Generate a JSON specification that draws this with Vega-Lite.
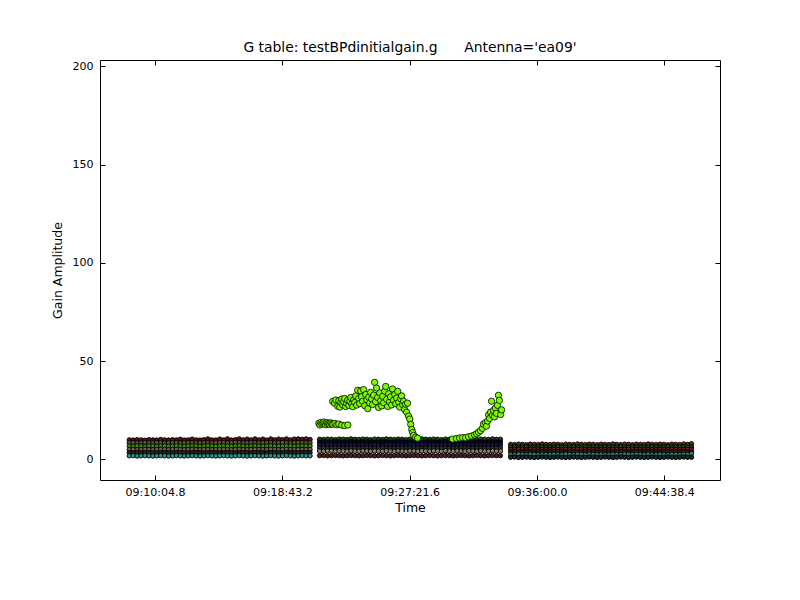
{
  "$schema": "https://vega.github.io/schema/vega-lite/v6.json",
  "width": 620,
  "height": 420,
  "autosize": "none",
  "padding": {"left": 100, "top": 60, "right": 80, "bottom": 120},
  "background": "white",
  "config": {
    "view": {"stroke": "black", "strokeWidth": 1, "fill": "white"},
    "font": "DejaVu Sans"
  },
  "title": {
    "text": "G table: testBPdinitialgain.g\u00a0\u00a0\u00a0\u00a0\u00a0\u00a0Antenna='ea09'",
    "font": "DejaVu Sans",
    "fontSize": 13.9,
    "fontWeight": "normal",
    "color": "black",
    "anchor": "middle",
    "offset": 5
  },
  "data": {"values": [
    {"t":32900,"a":9.9,"b":8.4,"c":6.8,"d":5.0,"e":3.4,"f":1.8},
    {"t":32916,"a":9.8,"b":8.5,"c":6.7,"d":5.1,"e":3.3,"f":1.9},
    {"t":32932,"a":10.0,"b":8.3,"c":6.9,"d":4.9,"e":3.5,"f":1.7},
    {"t":32948,"a":9.9,"b":8.4,"c":6.8,"d":5.0,"e":3.4,"f":1.8},
    {"t":32964,"a":9.7,"b":8.6,"c":6.6,"d":5.1,"e":3.3,"f":1.9},
    {"t":32980,"a":10.0,"b":8.4,"c":6.9,"d":5.0,"e":3.5,"f":1.8},
    {"t":32996,"a":9.9,"b":8.3,"c":6.8,"d":4.9,"e":3.4,"f":1.7},
    {"t":33012,"a":9.8,"b":8.5,"c":6.7,"d":5.0,"e":3.3,"f":1.8},
    {"t":33028,"a":10.1,"b":8.4,"c":6.8,"d":5.1,"e":3.4,"f":1.9},
    {"t":33044,"a":9.9,"b":8.3,"c":6.9,"d":5.0,"e":3.5,"f":1.8},
    {"t":33060,"a":9.8,"b":8.4,"c":6.7,"d":4.9,"e":3.4,"f":1.7},
    {"t":33076,"a":10.0,"b":8.5,"c":6.8,"d":5.0,"e":3.3,"f":1.8},
    {"t":33092,"a":9.9,"b":8.4,"c":6.9,"d":5.1,"e":3.4,"f":1.9},
    {"t":33108,"a":10.2,"b":8.3,"c":6.8,"d":5.0,"e":3.5,"f":1.8},
    {"t":33124,"a":9.8,"b":8.4,"c":6.7,"d":4.9,"e":3.4,"f":1.7},
    {"t":33140,"a":9.9,"b":8.5,"c":6.8,"d":5.0,"e":3.3,"f":1.8},
    {"t":33156,"a":10.3,"b":8.4,"c":6.9,"d":5.1,"e":3.4,"f":1.9},
    {"t":33172,"a":9.9,"b":8.3,"c":6.8,"d":5.0,"e":3.5,"f":1.8},
    {"t":33188,"a":9.8,"b":8.4,"c":6.7,"d":4.9,"e":3.4,"f":1.7},
    {"t":33204,"a":10.0,"b":8.5,"c":6.8,"d":5.0,"e":3.3,"f":1.8},
    {"t":33220,"a":10.4,"b":8.4,"c":6.9,"d":5.1,"e":3.4,"f":1.9},
    {"t":33236,"a":9.9,"b":8.3,"c":6.8,"d":5.0,"e":3.5,"f":1.8},
    {"t":33252,"a":9.8,"b":8.4,"c":6.7,"d":4.9,"e":3.4,"f":1.7},
    {"t":33268,"a":10.3,"b":8.5,"c":6.8,"d":5.0,"e":3.3,"f":1.8},
    {"t":33284,"a":9.9,"b":8.4,"c":6.9,"d":5.1,"e":3.4,"f":1.9},
    {"t":33300,"a":10.4,"b":8.3,"c":6.8,"d":5.0,"e":3.5,"f":1.8},
    {"t":33316,"a":9.8,"b":8.4,"c":6.7,"d":4.9,"e":3.4,"f":1.7},
    {"t":33332,"a":10.0,"b":8.5,"c":6.8,"d":5.0,"e":3.3,"f":1.8},
    {"t":33348,"a":10.4,"b":8.4,"c":6.9,"d":5.1,"e":3.4,"f":1.9},
    {"t":33364,"a":9.9,"b":8.3,"c":6.8,"d":5.0,"e":3.5,"f":1.8},
    {"t":33380,"a":10.3,"b":8.4,"c":6.7,"d":4.9,"e":3.4,"f":1.7},
    {"t":33396,"a":9.9,"b":8.5,"c":6.8,"d":5.0,"e":3.3,"f":1.8},
    {"t":33412,"a":10.4,"b":8.4,"c":6.9,"d":5.1,"e":3.4,"f":1.9},
    {"t":33428,"a":9.9,"b":8.3,"c":6.8,"d":5.0,"e":3.5,"f":1.8},
    {"t":33444,"a":10.3,"b":8.4,"c":6.7,"d":4.9,"e":3.4,"f":1.7},
    {"t":33460,"a":9.8,"b":8.5,"c":6.8,"d":5.0,"e":3.3,"f":1.8},
    {"t":33476,"a":10.4,"b":8.4,"c":6.9,"d":5.1,"e":3.4,"f":1.9},
    {"t":33492,"a":9.9,"b":8.3,"c":6.8,"d":5.0,"e":3.5,"f":1.8},
    {"t":33508,"a":10.3,"b":8.4,"c":6.7,"d":4.9,"e":3.4,"f":1.7},
    {"t":33524,"a":10.0,"b":8.5,"c":6.8,"d":5.0,"e":3.3,"f":1.8},
    {"t":33540,"a":10.4,"b":8.4,"c":6.9,"d":5.1,"e":3.4,"f":1.9},
    {"t":33556,"a":9.9,"b":8.3,"c":6.8,"d":5.0,"e":3.5,"f":1.8},
    {"t":33572,"a":10.3,"b":8.4,"c":6.7,"d":4.9,"e":3.4,"f":1.7},
    {"t":33588,"a":10.4,"b":8.5,"c":6.8,"d":5.0,"e":3.3,"f":1.8},
    {"t":33604,"a":10.2,"b":8.4,"c":6.9,"d":5.1,"e":3.4,"f":1.9},
    {"t":33620,"a":10.4,"b":8.3,"c":6.8,"d":5.0,"e":3.5,"f":1.8},
    {"t":33636,"a":10.1,"b":8.4,"c":6.8,"d":5.0,"e":3.4,"f":1.8},
    {"t":33675,"g":10.2,"h":8.8,"i":7.4,"j":5.8,"k":4.2,"l":1.9},
    {"t":33691,"g":10.1,"h":8.9,"i":7.3,"j":5.9,"k":4.1,"l":2.0},
    {"t":33707,"g":10.3,"h":8.7,"i":7.5,"j":5.7,"k":4.3,"l":1.8},
    {"t":33723,"g":10.2,"h":8.8,"i":7.4,"j":5.8,"k":4.2,"l":1.9},
    {"t":33739,"g":10.0,"h":8.9,"i":7.3,"j":5.9,"k":4.1,"l":2.0},
    {"t":33755,"g":10.3,"h":8.8,"i":7.5,"j":5.8,"k":4.3,"l":1.9},
    {"t":33771,"g":10.2,"h":8.7,"i":7.4,"j":5.7,"k":4.2,"l":1.8},
    {"t":33787,"g":10.1,"h":8.8,"i":7.3,"j":5.8,"k":4.1,"l":1.9},
    {"t":33803,"g":10.4,"h":8.9,"i":7.5,"j":5.9,"k":4.3,"l":2.0},
    {"t":33819,"g":10.2,"h":8.8,"i":7.4,"j":5.8,"k":4.2,"l":1.9},
    {"t":33835,"g":10.1,"h":8.7,"i":7.3,"j":5.7,"k":4.1,"l":1.8},
    {"t":33851,"g":10.3,"h":8.8,"i":7.5,"j":5.8,"k":4.3,"l":1.9},
    {"t":33867,"g":10.2,"h":8.9,"i":7.4,"j":5.9,"k":4.2,"l":2.0},
    {"t":33883,"g":10.0,"h":8.8,"i":7.3,"j":5.8,"k":4.1,"l":1.9},
    {"t":33899,"g":10.3,"h":8.7,"i":7.5,"j":5.7,"k":4.3,"l":1.8},
    {"t":33915,"g":10.2,"h":8.8,"i":7.4,"j":5.8,"k":4.2,"l":1.9},
    {"t":33931,"g":10.1,"h":8.9,"i":7.3,"j":5.9,"k":4.1,"l":2.0},
    {"t":33947,"g":10.4,"h":8.8,"i":7.5,"j":5.8,"k":4.3,"l":1.9},
    {"t":33963,"g":10.2,"h":8.7,"i":7.4,"j":5.7,"k":4.2,"l":1.8},
    {"t":33979,"g":10.1,"h":8.8,"i":7.3,"j":5.8,"k":4.1,"l":1.9},
    {"t":33995,"g":10.3,"h":8.9,"i":7.5,"j":5.9,"k":4.3,"l":2.0},
    {"t":34011,"g":10.2,"h":8.8,"i":7.4,"j":5.8,"k":4.2,"l":1.9},
    {"t":34027,"g":10.0,"h":8.7,"i":7.3,"j":5.7,"k":4.1,"l":1.8},
    {"t":34043,"g":10.3,"h":8.8,"i":7.5,"j":5.8,"k":4.3,"l":1.9},
    {"t":34059,"g":10.2,"h":8.9,"i":7.4,"j":5.9,"k":4.2,"l":2.0},
    {"t":34075,"g":10.1,"h":8.8,"i":7.3,"j":5.8,"k":4.1,"l":1.9},
    {"t":34091,"g":10.4,"h":8.7,"i":7.5,"j":5.7,"k":4.3,"l":1.8},
    {"t":34107,"g":10.2,"h":8.8,"i":7.4,"j":5.8,"k":4.2,"l":1.9},
    {"t":34123,"g":10.1,"h":8.9,"i":7.3,"j":5.9,"k":4.1,"l":2.0},
    {"t":34139,"g":10.3,"h":8.8,"i":7.5,"j":5.8,"k":4.3,"l":1.9},
    {"t":34155,"g":10.2,"h":8.7,"i":7.4,"j":5.7,"k":4.2,"l":1.8},
    {"t":34171,"g":10.0,"h":8.8,"i":7.3,"j":5.8,"k":4.1,"l":1.9},
    {"t":34187,"g":10.3,"h":8.9,"i":7.5,"j":5.9,"k":4.3,"l":2.0},
    {"t":34203,"g":10.2,"h":8.8,"i":7.4,"j":5.8,"k":4.2,"l":1.9},
    {"t":34219,"g":10.1,"h":8.7,"i":7.3,"j":5.7,"k":4.1,"l":1.8},
    {"t":34235,"g":10.4,"h":8.8,"i":7.5,"j":5.8,"k":4.3,"l":1.9},
    {"t":34251,"g":10.2,"h":8.9,"i":7.4,"j":5.9,"k":4.2,"l":2.0},
    {"t":34267,"g":10.1,"h":8.8,"i":7.3,"j":5.8,"k":4.1,"l":1.9},
    {"t":34283,"g":10.3,"h":8.7,"i":7.5,"j":5.7,"k":4.3,"l":1.8},
    {"t":34299,"g":10.2,"h":8.8,"i":7.4,"j":5.8,"k":4.2,"l":1.9},
    {"t":34315,"g":10.0,"h":8.9,"i":7.3,"j":5.9,"k":4.1,"l":2.0},
    {"t":34331,"g":10.3,"h":8.8,"i":7.5,"j":5.8,"k":4.3,"l":1.9},
    {"t":34347,"g":10.2,"h":8.7,"i":7.4,"j":5.7,"k":4.2,"l":1.8},
    {"t":34363,"g":10.1,"h":8.8,"i":7.3,"j":5.8,"k":4.1,"l":1.9},
    {"t":34379,"g":10.4,"h":8.9,"i":7.5,"j":5.9,"k":4.3,"l":2.0},
    {"t":34395,"g":10.2,"h":8.8,"i":7.4,"j":5.8,"k":4.2,"l":1.9},
    {"t":34411,"g":10.2,"h":8.8,"i":7.4,"j":5.8,"k":4.2,"l":1.9},
    {"t":34453,"m":7.6,"n":6.3,"o":5.0,"p":3.8,"q":2.5,"r":1.1},
    {"t":34469,"m":7.5,"n":6.4,"o":4.9,"p":3.9,"q":2.4,"r":1.2},
    {"t":34485,"m":7.7,"n":6.2,"o":5.1,"p":3.7,"q":2.6,"r":1.0},
    {"t":34501,"m":7.6,"n":6.3,"o":5.0,"p":3.8,"q":2.5,"r":1.1},
    {"t":34517,"m":7.4,"n":6.4,"o":4.9,"p":3.9,"q":2.4,"r":1.2},
    {"t":34533,"m":7.7,"n":6.3,"o":5.1,"p":3.8,"q":2.6,"r":1.1},
    {"t":34549,"m":7.6,"n":6.2,"o":5.0,"p":3.7,"q":2.5,"r":1.0},
    {"t":34565,"m":7.5,"n":6.3,"o":4.9,"p":3.8,"q":2.4,"r":1.1},
    {"t":34581,"m":7.8,"n":6.4,"o":5.1,"p":3.9,"q":2.6,"r":1.2},
    {"t":34597,"m":7.6,"n":6.3,"o":5.0,"p":3.8,"q":2.5,"r":1.1},
    {"t":34613,"m":7.5,"n":6.2,"o":4.9,"p":3.7,"q":2.4,"r":1.0},
    {"t":34629,"m":7.7,"n":6.3,"o":5.1,"p":3.8,"q":2.6,"r":1.1},
    {"t":34645,"m":7.6,"n":6.4,"o":5.0,"p":3.9,"q":2.5,"r":1.2},
    {"t":34661,"m":7.4,"n":6.3,"o":4.9,"p":3.8,"q":2.4,"r":1.1},
    {"t":34677,"m":7.7,"n":6.2,"o":5.1,"p":3.7,"q":2.6,"r":1.0},
    {"t":34693,"m":7.6,"n":6.3,"o":5.0,"p":3.8,"q":2.5,"r":1.1},
    {"t":34709,"m":7.5,"n":6.4,"o":4.9,"p":3.9,"q":2.4,"r":1.2},
    {"t":34725,"m":7.8,"n":6.3,"o":5.1,"p":3.8,"q":2.6,"r":1.1},
    {"t":34741,"m":7.6,"n":6.2,"o":5.0,"p":3.7,"q":2.5,"r":1.0},
    {"t":34757,"m":7.5,"n":6.3,"o":4.9,"p":3.8,"q":2.4,"r":1.1},
    {"t":34773,"m":7.7,"n":6.4,"o":5.1,"p":3.9,"q":2.6,"r":1.2},
    {"t":34789,"m":7.6,"n":6.3,"o":5.0,"p":3.8,"q":2.5,"r":1.1},
    {"t":34805,"m":7.4,"n":6.2,"o":4.9,"p":3.7,"q":2.4,"r":1.0},
    {"t":34821,"m":7.7,"n":6.3,"o":5.1,"p":3.8,"q":2.6,"r":1.1},
    {"t":34837,"m":7.6,"n":6.4,"o":5.0,"p":3.9,"q":2.5,"r":1.2},
    {"t":34853,"m":7.5,"n":6.3,"o":4.9,"p":3.8,"q":2.4,"r":1.1},
    {"t":34869,"m":7.8,"n":6.2,"o":5.1,"p":3.7,"q":2.6,"r":1.0},
    {"t":34885,"m":7.6,"n":6.3,"o":5.0,"p":3.8,"q":2.5,"r":1.1},
    {"t":34901,"m":7.5,"n":6.4,"o":4.9,"p":3.9,"q":2.4,"r":1.2},
    {"t":34917,"m":7.7,"n":6.3,"o":5.1,"p":3.8,"q":2.6,"r":1.1},
    {"t":34933,"m":7.6,"n":6.2,"o":5.0,"p":3.7,"q":2.5,"r":1.0},
    {"t":34949,"m":7.4,"n":6.3,"o":4.9,"p":3.8,"q":2.4,"r":1.1},
    {"t":34965,"m":7.7,"n":6.4,"o":5.1,"p":3.9,"q":2.6,"r":1.2},
    {"t":34981,"m":7.6,"n":6.3,"o":5.0,"p":3.8,"q":2.5,"r":1.1},
    {"t":34997,"m":7.5,"n":6.2,"o":4.9,"p":3.7,"q":2.4,"r":1.0},
    {"t":35013,"m":7.8,"n":6.3,"o":5.1,"p":3.8,"q":2.6,"r":1.1},
    {"t":35029,"m":7.6,"n":6.4,"o":5.0,"p":3.9,"q":2.5,"r":1.2},
    {"t":35045,"m":7.5,"n":6.3,"o":4.9,"p":3.8,"q":2.4,"r":1.1},
    {"t":35061,"m":7.7,"n":6.2,"o":5.1,"p":3.7,"q":2.6,"r":1.0},
    {"t":35077,"m":7.6,"n":6.3,"o":5.0,"p":3.8,"q":2.5,"r":1.1},
    {"t":35093,"m":7.4,"n":6.4,"o":4.9,"p":3.9,"q":2.4,"r":1.2},
    {"t":35109,"m":7.7,"n":6.3,"o":5.1,"p":3.8,"q":2.6,"r":1.1},
    {"t":35125,"m":7.6,"n":6.2,"o":5.0,"p":3.7,"q":2.5,"r":1.0},
    {"t":35141,"m":7.5,"n":6.3,"o":4.9,"p":3.8,"q":2.4,"r":1.1},
    {"t":35157,"m":7.8,"n":6.4,"o":5.1,"p":3.9,"q":2.6,"r":1.2},
    {"t":35173,"m":7.6,"n":6.3,"o":5.0,"p":3.8,"q":2.5,"r":1.1},
    {"t":35189,"m":7.9,"n":6.3,"o":5.0,"p":3.8,"q":2.9,"r":1.1},
    {"t":33672,"G":18.3},{"t":33676,"G":17.5},{"t":33680,"G":18.8},{"t":33684,"G":17.9},
    {"t":33688,"G":18.5},{"t":33692,"G":19.0},{"t":33696,"G":18.2},{"t":33700,"G":17.6},
    {"t":33704,"G":18.7},{"t":33708,"G":18.0},{"t":33712,"G":18.4},{"t":33716,"G":17.7},
    {"t":33720,"G":18.6},{"t":33724,"G":18.1},{"t":33729,"G":17.9},{"t":33737,"G":18.3},
    {"t":33745,"G":17.6},{"t":33753,"G":18.0},{"t":33765,"G":17.4},{"t":33777,"G":17.2},
    {"t":33790,"G":17.5},
    {"t":33728,"G":29.5},{"t":33736,"G":28.6},{"t":33741,"G":30.2},{"t":33749,"G":27.0},
    {"t":33753,"G":29.8},{"t":33757,"G":26.6},{"t":33761,"G":28.9},{"t":33765,"G":30.7},
    {"t":33769,"G":27.8},{"t":33773,"G":29.3},{"t":33777,"G":31.0},{"t":33781,"G":26.9},
    {"t":33785,"G":28.5},{"t":33789,"G":30.1},{"t":33794,"G":27.5},{"t":33798,"G":29.6},
    {"t":33802,"G":31.5},{"t":33806,"G":28.2},{"t":33810,"G":26.8},{"t":33814,"G":30.4},
    {"t":33818,"G":29.0},{"t":33822,"G":32.3},{"t":33826,"G":27.6},{"t":33830,"G":35.2},
    {"t":33834,"G":30.9},{"t":33838,"G":28.4},{"t":33842,"G":34.8},{"t":33846,"G":31.8},
    {"t":33850,"G":29.5},{"t":33854,"G":35.5},{"t":33859,"G":27.3},{"t":33863,"G":33.0},
    {"t":33867,"G":30.2},{"t":33871,"G":25.8},{"t":33875,"G":31.6},{"t":33879,"G":28.7},
    {"t":33883,"G":34.1},{"t":33887,"G":30.8},{"t":33891,"G":27.9},{"t":33895,"G":32.7},
    {"t":33899,"G":39.2},{"t":33903,"G":29.4},{"t":33907,"G":36.3},{"t":33911,"G":31.5},
    {"t":33915,"G":26.4},{"t":33920,"G":33.8},{"t":33924,"G":29.9},{"t":33928,"G":27.2},
    {"t":33932,"G":32.1},{"t":33936,"G":28.8},{"t":33940,"G":34.7},{"t":33944,"G":37.1},
    {"t":33948,"G":30.5},{"t":33952,"G":26.9},{"t":33956,"G":33.4},{"t":33960,"G":29.2},
    {"t":33964,"G":31.8},{"t":33968,"G":27.7},{"t":33972,"G":35.8},{"t":33976,"G":30.1},
    {"t":33981,"G":33.0},{"t":33985,"G":28.3},{"t":33989,"G":31.2},{"t":33993,"G":34.6},
    {"t":33997,"G":29.0},{"t":34001,"G":26.6},{"t":34005,"G":30.8},{"t":34009,"G":32.3},
    {"t":34013,"G":27.9},{"t":34017,"G":29.6},{"t":34021,"G":25.3},{"t":34025,"G":28.1},
    {"t":34029,"G":24.0},{"t":34033,"G":28.6},{"t":34037,"G":22.0},{"t":34042,"G":20.5},
    {"t":34046,"G":17.8},{"t":34050,"G":15.2},{"t":34054,"G":13.6},{"t":34058,"G":12.2},
    {"t":34066,"G":11.3},{"t":34074,"G":10.8},
    {"t":34216,"G":10.3},{"t":34232,"G":10.6},{"t":34245,"G":10.9},{"t":34257,"G":11.1},
    {"t":34269,"G":11.0},{"t":34281,"G":11.5},{"t":34294,"G":11.9},{"t":34306,"G":12.4},
    {"t":34314,"G":13.0},{"t":34322,"G":13.8},{"t":34330,"G":14.6},{"t":34338,"G":15.8},
    {"t":34342,"G":17.9},{"t":34350,"G":18.7},{"t":34354,"G":16.9},{"t":34359,"G":19.5},
    {"t":34363,"G":22.6},{"t":34367,"G":20.8},{"t":34371,"G":24.0},{"t":34375,"G":29.6},
    {"t":34379,"G":22.4},{"t":34383,"G":24.9},{"t":34387,"G":21.6},{"t":34391,"G":26.1},
    {"t":34395,"G":23.4},{"t":34399,"G":27.5},{"t":34403,"G":32.6},{"t":34407,"G":30.0},
    {"t":34412,"G":22.8},{"t":34416,"G":25.2}
  ]},
  "transform": [
    {"fold": ["a","b","c","d","e","f","g","h","i","j","k","l","m","n","o","p","q","r","G"], "as": ["s","v"]},
    {"filter": "isValid(datum.v)"}
  ],
  "encoding": {
    "x": {"field": "t", "type": "quantitative", "scale": {"domain": [32780.8, 35305.2], "nice": false, "zero": false}},
    "y": {"field": "v", "type": "quantitative", "scale": {"domain": [-10.5, 203.2], "nice": false, "zero": false}},
    "color": {
      "field": "s", "type": "nominal", "legend": null,
      "scale": {
        "domain": ["a","b","c","d","e","f","g","h","i","j","k","l","m","n","o","p","q","r","G"],
        "range": ["#5a1212","#5e5646","#3f8a10","#6e624e","#262626","#2f9088","#1e4a14","#0a0a24","#161650","#2c2c2c","#8a8070","#4a2222","#6a2a14","#1a4a1a","#7a1a1a","#262626","#3a8a72","#1a2828","#7cfc00"]
      }
    }
  },
  "layer": [
    {
      "transform": [{"filter": "datum.s !== 'G'"}],
      "mark": {"type": "point", "shape": "circle", "filled": true, "size": 20, "opacity": 1, "stroke": "black", "strokeWidth": 0.9},
      "encoding": {
        "x": {"field": "t", "type": "quantitative", "axis": {
          "values": [33004.8, 33523.2, 34041.6, 34560, 35078.4],
          "labelExpr": "substring(utcFormat(round(datum.value*10)*100,'%H:%M:%S.%L'),0,10)",
          "title": "Time", "grid": false, "domain": false,
          "tickSize": -5, "tickColor": "black", "tickWidth": 1,
          "labelPadding": 11, "labelFont": "DejaVu Sans", "labelFontSize": 11, "labelColor": "black",
          "labelFlush": false, "labelOverlap": false,
          "titleFont": "DejaVu Sans", "titleFontSize": 12.5, "titleFontWeight": "normal", "titleColor": "black", "titlePadding": 4
        }},
        "y": {"field": "v", "type": "quantitative", "axis": {
          "values": [0, 50, 100, 150, 200],
          "title": "Gain Amplitude", "grid": false, "domain": false,
          "tickSize": -5, "tickColor": "black", "tickWidth": 1,
          "labelPadding": 12, "labelFont": "DejaVu Sans", "labelFontSize": 11, "labelColor": "black",
          "labelFlush": false, "labelOverlap": false,
          "titleFont": "DejaVu Sans", "titleFontSize": 12.5, "titleFontWeight": "normal", "titleColor": "black", "titlePadding": 8
        }}
      }
    },
    {
      "transform": [{"filter": "datum.s === 'G'"}],
      "mark": {"type": "point", "shape": "circle", "filled": true, "size": 40, "opacity": 1, "stroke": "black", "strokeWidth": 0.8},
      "encoding": {
        "x": {"field": "t", "type": "quantitative", "axis": null},
        "y": {"field": "v", "type": "quantitative", "axis": null}
      }
    },
    {
      "transform": [{"filter": "datum.s === 'G'"}],
      "mark": {"type": "point", "opacity": 0},
      "encoding": {
        "x": {"field": "t", "type": "quantitative", "axis": {
          "orient": "top", "values": [33004.8, 33523.2, 34041.6, 34560, 35078.4],
          "labels": false, "title": null, "grid": false, "domain": false,
          "tickSize": -5, "tickColor": "black", "tickWidth": 1
        }},
        "y": {"field": "v", "type": "quantitative", "axis": {
          "orient": "right", "values": [0, 50, 100, 150, 200],
          "labels": false, "title": null, "grid": false, "domain": false,
          "tickSize": -5, "tickColor": "black", "tickWidth": 1
        }}
      }
    }
  ],
  "resolve": {"axis": {"x": "independent", "y": "independent"}}
}
